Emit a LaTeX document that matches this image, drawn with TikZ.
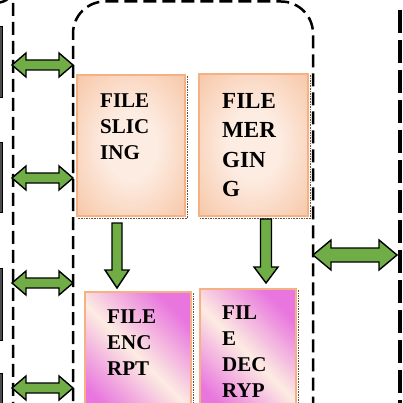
\documentclass[tikz,border=0pt]{standalone}
\usepackage{fontspec}
\setmainfont{Liberation Serif}
\usetikzlibrary{calc}
\definecolor{agreen}{RGB}{112,173,71}
\definecolor{peach}{RGB}{253,236,226}
\definecolor{orng}{RGB}{242,168,118}
\definecolor{pinkc}{RGB}{232,118,222}
\definecolor{edgeo}{RGB}{244,177,131}
\definecolor{shadowc}{RGB}{110,80,60}
\pgfdeclareradialshading{softo}{\pgfpoint{0bp}{0bp}}{color(0bp)=(peach); color(12bp)=(peach); color(38bp)=(orng!60!peach); color(60bp)=(orng); color(100bp)=(orng)}
\newcommand\hdbl[5]{\path[arr] (#1) -- ++(#3,-#4) -- ++(0,#4-#5) -- ($(#2)+(-#3,-#5)$) -- ++(0,#5-#4) -- (#2) -- ++(-#3,#4) -- ++(0,#5-#4) -- ($(#1)+(#3,#5)$) -- ++(0,#4-#5) -- cycle;}
\newcommand\vdn[5]{\path[arr] ($(#1)+(-#5,0)$) -- ($(#2)+(-#5,-#3)$) -- ++(#5-#4,0) -- (#2) -- ++(#4,-#3) -- ++(#5-#4,0) -- ($(#1)+(#5,0)$) -- cycle;}
\begin{document}
\begin{tikzpicture}[x=1pt,y=-1pt,
  arr/.style={fill=agreen,draw=black,line width=1.4pt,line join=miter},
  obox/.style={draw=edgeo,line width=1.8pt,inner sep=0pt,anchor=north west,shading=softo},
  pbox/.style={draw=edgeo,line width=1.8pt,inner sep=0pt,anchor=north west,shading=axis,left color=pinkc,right color=pinkc,middle color=peach,shading angle=-45},
  txt/.style={inner sep=0pt,anchor=north west,align=left,font=\bfseries\fontsize{21}{26}\selectfont},
  txtb/.style={inner sep=0pt,anchor=north west,align=left,font=\bfseries\fontsize{23}{29.5}\selectfont},
  shad/.style={densely dotted,line width=1.6pt,draw=shadowc},
  bar/.style={fill=black!70,draw=black,line width=1pt},
  midd/.style={line width=2.5pt,dash pattern=on 13pt off 6pt},
  thick dash/.style={line width=4.5pt,dash pattern=on 23pt off 7pt}]
\useasboundingbox (0,0) rectangle (403,403);
\clip (0,0) rectangle (403,403);
% left partial boxes
\draw[bar] (-10,27) rectangle (2.5,98);
\draw[bar] (-10,143) rectangle (2.5,212);
\draw[bar] (-10,268) rectangle (2.5,340);
\draw[bar] (-10,373) rectangle (2.5,420);
% left dashed border
\draw[midd] (-20,2.5) -- (-2,2.5) arc[start angle=90,end angle=0,radius=15] -- (13,420);
% middle dashed rounded rectangle
\draw[midd,rounded corners=32pt] (73,420) -- (73,1.5) -- (313,1.5) -- (313,420);
% right thick dashed line
\draw[thick dash] (400,10) -- (400,420);
% boxes
\node[obox,minimum width=108,minimum height=141] (slice) at (76,74) {};
\node[obox,minimum width=109,minimum height=142] (merge) at (198,73) {};
\node[pbox,minimum width=106,minimum height=130] (enc) at (84,291) {};
\node[pbox,minimum width=96,minimum height=130] (dec) at (199,288) {};
\draw[shad] (slice.north east) ++(1.5,2) -- ($(slice.south east)+(1.5,1.5)$) -- ($(slice.south west)+(2,1.5)$);
\draw[shad] (merge.north east) ++(1.5,2) -- ($(merge.south east)+(1.5,1.5)$) -- ($(merge.south west)+(2,1.5)$);
\draw[shad] (enc.north east) ++(1.5,2) -- ($(enc.south east)+(1.5,0)$);
\draw[shad] (dec.north east) ++(1.5,2) -- ($(dec.south east)+(1.5,0)$);
% texts
\node[txt] (tslice) at (100,94) {FILE\\SLIC\\ING};
\node[txtb] (tmerge) at (222,93) {FILE\\MER\\GIN\\G};
\node[txt] (tenc) at (107,310) {FILE\\ENC\\RPT};
\node[txt] (tdec) at (222,306) {FIL\\E\\DEC\\RYP};
% coordinates for arrows
\coordinate (a1l) at (12,65);  \coordinate (a1r) at (73,65);
\coordinate (a2l) at (12,178); \coordinate (a2r) at (73,178);
\coordinate (a3l) at (12,283); \coordinate (a3r) at (73,283);
\coordinate (a4l) at (12,388); \coordinate (a4r) at (73,388);
\coordinate (ar1) at (313,255); \coordinate (ar2) at (397,255);
\coordinate (d1t) at (117,223); \coordinate (d1b) at (117,288);
\coordinate (d2t) at (266,219); \coordinate (d2b) at (266,283);
\hdbl{a1l}{a1r}{14}{12}{5}
\hdbl{a2l}{a2r}{14}{12}{5}
\hdbl{a3l}{a3r}{14}{12}{5}
\hdbl{a4l}{a4r}{14}{12}{5}
\hdbl{ar1}{ar2}{18}{15}{7}
\vdn{d1t}{d1b}{18}{12}{5}
\vdn{d2t}{d2b}{16}{12}{5.5}
\end{tikzpicture}
\end{document}
